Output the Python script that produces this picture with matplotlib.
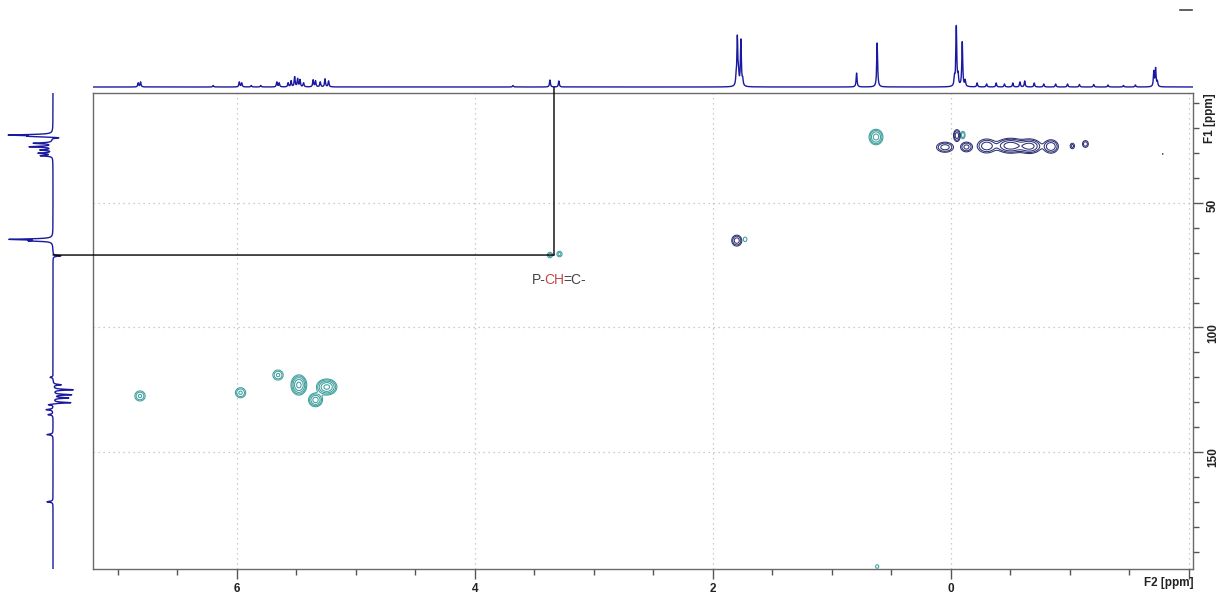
import numpy as np
import matplotlib
matplotlib.use("Agg")
import matplotlib.pyplot as plt
from matplotlib.patches import ConnectionPatch
from matplotlib.lines import Line2D
from matplotlib.ticker import MultipleLocator, FixedLocator, FixedFormatter
from matplotlib.transforms import offset_copy

plt.rcParams['font.family'] = ['Liberation Sans', 'DejaVu Sans']

# ---- 2D cross peaks: F2 (1H, ppm), F1 (13C, ppm), amplitude, widths (ppm)
pos_f2 = [0.63, -0.10, 1.73, 3.37, 3.29, 6.815, 5.97, 5.655, 5.48, 5.34, 5.246, 0.62]
pos_f1 = [23.5, 22.7, 64.6, 70.9, 70.5, 127.5, 126.2, 119.1, 123.1, 129.1, 123.9, 196.0]
pos_amp = [0.8, 0.3, 0.2, 0.25, 0.25, 0.4, 0.4, 0.4, 1.2, 0.8, 1.2, 0.18]
pos_sx = [0.030, 0.014, 0.015, 0.018, 0.018, 0.028, 0.028, 0.028, 0.031, 0.030, 0.040, 0.015]
pos_sy = [1.6, 1.1, 0.9, 0.9, 0.9, 1.3, 1.3, 1.3, 1.9, 1.4, 1.5, 0.8]

neg_f2 = [-0.05, 0.05, -0.13, -0.30, -0.50, -0.66, -0.84, -1.02, -1.13, -1.78, 1.80]
neg_f1 = [22.9, 27.6, 27.5, 27.1, 27.0, 27.2, 27.3, 27.1, 26.3, 30.3, 65.1]
neg_amp = [0.5, 0.5, 0.45, 0.55, 0.9, 0.8, 0.6, 0.25, 0.3, 0.14, 0.5]
neg_sx = [0.017, 0.042, 0.030, 0.045, 0.060, 0.050, 0.035, 0.015, 0.018, 0.006, 0.025]
neg_sy = [1.4, 1.2, 1.2, 1.6, 1.5, 1.5, 1.5, 0.9, 1.0, 0.3, 1.3]

contour_levels = [0.12, 0.2, 0.35, 0.6, 1.0]

# ---- 1H projection (ppm, height)
h_ppm = [6.83, 6.81, 6.20, 5.98, 5.96, 5.88, 5.80, 5.665, 5.645, 5.57, 5.545,
         5.515, 5.49, 5.47, 5.44, 5.36, 5.34, 5.30, 5.26, 5.23, 3.68, 3.37,
         3.295, 1.805, 1.795, 1.785, 1.765, 1.75, 0.793, 0.62, -0.03, -0.045,
         -0.06, -0.095, -0.12, -0.22, -0.30, -0.38, -0.45, -0.52, -0.58,
         -0.62, -0.70, -0.78, -0.88, -0.98, -1.08, -1.20, -1.32, -1.45,
         -1.55, -1.705, -1.72, -1.735]
h_int = [4, 5, 1.5, 5, 4, 1.5, 1.5, 5, 4, 4, 6,
         10, 8, 7, 4, 7, 6, 5, 8, 6, 1.5, 7,
         6, 8, 48, 10, 46, 6, 14, 44, 8, 60,
         10, 45, 6, 4, 3, 4, 3, 4, 5,
         6, 4, 3, 3, 3, 2.5, 2.5, 2, 1.5,
         2, 15, 18, 5]

# ---- 13C projection (ppm, intensity; positive points left)
c_ppm = [22.7, 23.2, 23.8, 26.0, 27.4, 28.7, 30.0, 31.0, 64.6, 65.2, 71.2,
         120.0, 123.0, 125.0, 127.0, 128.3, 130.2, 131.0, 133.0, 135.0,
         143.0, 170.0]
c_int = [42, 20, -10, 19, 23, 12, 14, 12, 42, 20, -8,
         3, -8, -20, -18, -15, -18, 6, 7, 5,
         6, 6]

f2_lim = (7.21, -2.034)
f1_lim = (197.0, 5.82)

teal = '#3e9f9c'
navy = '#2e3173'
blue = '#1a1aa0'

fig = plt.figure(figsize=(12.19, 5.97), dpi=100)
W, H = 1219.0, 597.0
ax = fig.add_axes([93 / W, 1 - 569 / H, 1100 / W, 476 / H])
axt = fig.add_axes([93 / W, 1 - 93 / H, 1100 / W, 83 / H])
axl = fig.add_axes([0, 1 - 569 / H, 93 / W, 476 / H])

# 2D map
gx = np.linspace(-2.1, 7.3, 2200)
gy = np.linspace(4.0, 199.0, 900)
X, Y = np.meshgrid(gx, gy)
zp = np.zeros_like(X)
for a, b, amp, sx, sy in zip(pos_f2, pos_f1, pos_amp, pos_sx, pos_sy):
    zp += amp * np.exp(-0.5 * (((X - a) / sx) ** 2 + ((Y - b) / sy) ** 2))
zn = np.zeros_like(X)
for a, b, amp, sx, sy in zip(neg_f2, neg_f1, neg_amp, neg_sx, neg_sy):
    zn += amp * np.exp(-0.5 * (((X - a) / sx) ** 2 + ((Y - b) / sy) ** 2))

ax.contour(X, Y, zp, levels=contour_levels, colors=teal, linewidths=0.75)
ax.contour(X, Y, zn, levels=contour_levels, colors=navy, linewidths=0.75)

ax.set_xlim(*f2_lim)
ax.set_ylim(*f1_lim)
f2_major = [6, 4, 2, 0, -2]
ax.xaxis.set_major_locator(FixedLocator(f2_major))
ax.xaxis.set_major_formatter(FixedFormatter(['6', '4', '2', '0', '']))
ax.xaxis.set_minor_locator(MultipleLocator(0.5))
ax.yaxis.set_major_locator(MultipleLocator(50))
ax.yaxis.set_minor_locator(MultipleLocator(10))
ax.yaxis.tick_right()
ax.grid(True, which='major', color='#bdbdbd', linestyle=(0, (1, 3)), linewidth=0.9)
for s in ax.spines.values():
    s.set_color('#6a6a6a')
    s.set_linewidth(1.0)
ax.tick_params(axis='both', which='major', length=7, width=1.0, color='#555555',
               labelsize=8.5, pad=3)
ax.tick_params(axis='both', which='minor', length=4, width=1.0, color='#555555')
ax.tick_params(axis='y', which='both', labelrotation=90)
for lab in ax.get_xticklabels() + ax.get_yticklabels():
    lab.set_fontweight('bold')
    lab.set_color('#222222')
ax.text(1.0, -0.03, 'F2 [ppm]', transform=ax.transAxes, ha='right', va='center',
        fontsize=8.5, fontweight='bold', color='#222222')
ax.text(1.010, 1.0, 'F1 [ppm]', transform=ax.transAxes, ha='left', va='top',
        rotation=90, fontsize=8.5, fontweight='bold', color='#222222')

# assignment label, pieces laid out one after another
label_parts = ['P-', 'CH', '=C-']
label_colors = ['#444444', '#c44a4a', '#444444']
fig.canvas.draw()
renderer = fig.canvas.get_renderer()
dx = 0.0
for part, col in zip(label_parts, label_colors):
    t = ax.text(3.52, 80.9, part, color=col, fontsize=10, ha='left', va='center',
                transform=offset_copy(ax.transData, fig=fig, x=dx, y=0, units='dots'))
    dx += t.get_window_extent(renderer=renderer).width - 1.5

# 1H projection
hx = np.linspace(-2.1, 7.3, 9000)
hy = np.zeros_like(hx)
for p, h in zip(h_ppm, h_int):
    hy += h / (1 + ((hx - p) / 0.0045) ** 2)
axt.plot(hx, hy, color=blue, lw=1.0)
axt.set_xlim(*f2_lim)
axt.set_ylim(-6, 77)
axt.axis('off')

# 13C projection
cy = np.linspace(4.0, 199.0, 6000)
cx = np.zeros_like(cy)
for p, h in zip(c_ppm, c_int):
    cx += h / (1 + ((cy - p) / 0.22) ** 2)
axl.plot(cx, cy, color=blue, lw=1.0)
axl.set_ylim(*f1_lim)
axl.set_xlim(53, -40)
axl.axis('off')

# correlation guide lines to the projections
con1 = ConnectionPatch(xyA=(3.336, 70.9), coordsA=ax.transData,
                       xyB=(3.336, 0), coordsB=axt.transData,
                       color='black', lw=1.0)
con2 = ConnectionPatch(xyA=(3.336, 70.9), coordsA=ax.transData,
                       xyB=(0, 70.9), coordsB=axl.transData,
                       color='black', lw=1.0)
fig.add_artist(con1)
fig.add_artist(con2)

fig.add_artist(Line2D([1180 / W, 1192 / W], [1 - 10 / H, 1 - 10 / H],
                      color='#444444', lw=1.2))

fig.savefig('out.png', dpi=100)
